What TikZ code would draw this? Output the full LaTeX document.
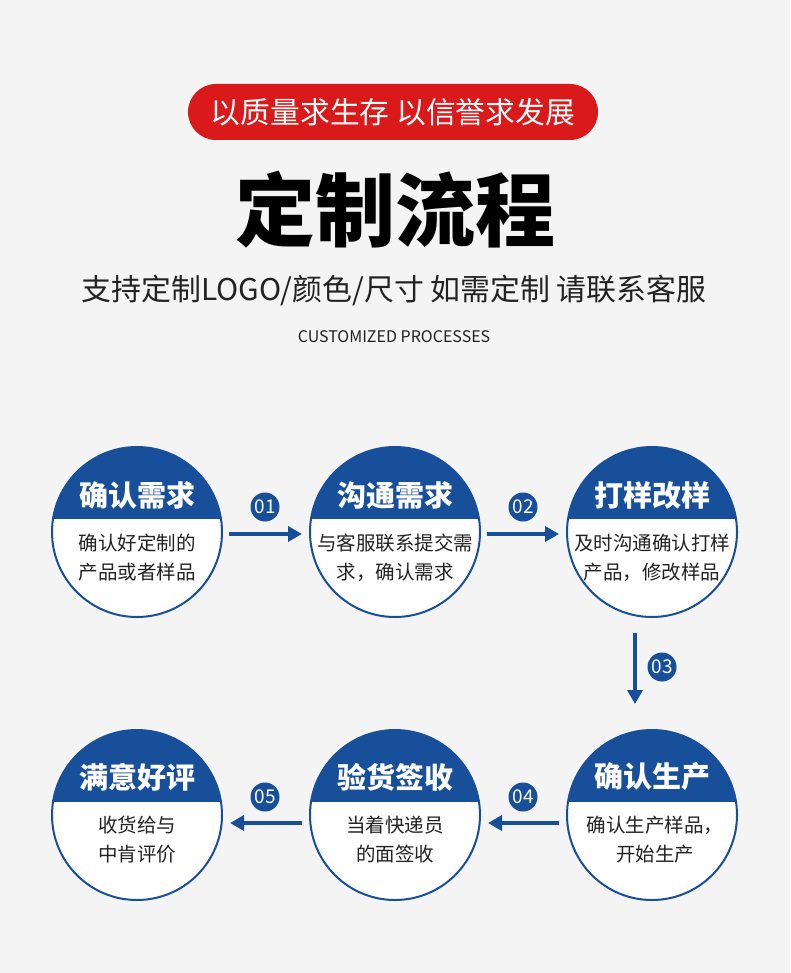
\documentclass[tikz,border=0pt]{standalone}
\usepackage{fontspec}
\setmainfont{Noto Sans CJK SC}
\usetikzlibrary{arrows.meta}
\definecolor{bg}{HTML}{F4F4F4}
\definecolor{pblue}{HTML}{174F9A}
\definecolor{pred}{HTML}{DA1A1A}
\definecolor{ink}{HTML}{222222}
\newcommand{\fs}[1]{\fontsize{#1}{#1}\selectfont}
\tikzset{
  stepcircle/.style={circle, draw=pblue, line width=2pt, fill=white, minimum size=170pt, inner sep=0pt,
    path picture={\fill[pblue] ([xshift=-100pt,yshift=100pt]path picture bounding box.center) rectangle ([xshift=100pt,yshift=13pt]path picture bounding box.center);}},
  steptitle/.style={text=white, font=\fs{29pt}\bfseries, inner sep=0pt},
  stepbody/.style={text=ink, font=\fontsize{19.5pt}{29pt}\selectfont, align=center, inner sep=0pt},
  arr/.style={draw=pblue, line width=4pt, -{Triangle[length=14pt,width=15pt]}},
  badge/.style={circle, fill=pblue, text=white, minimum size=29pt, inner sep=0pt, font=\fs{19pt}},
}
\begin{document}
\begin{tikzpicture}[x=1pt,y=-1pt]
\fill[bg] (0,0) rectangle (790,973);
\useasboundingbox (0,0) rectangle (790,973);
% header
\node[fill=pred, rounded corners=28pt, minimum width=410pt, minimum height=56pt, inner sep=0pt,
      text=white, font=\fs{29.8pt}] (pill) at (393,112) {以质量求生存 以信誉求发展};
\node[font=\fs{80pt}\bfseries, text=black, inner sep=0pt] (title) at (395,210) {定制流程};
\node[font=\fs{29.9pt}, text=ink, inner sep=0pt] (sub) at (394,290) {支持定制LOGO/颜色/尺寸 如需定制 请联系客服};
\node[font=\fs{16pt}, text=ink, inner sep=0pt] (en) at (394,337) {CUSTOMIZED PROCESSES};
% circles
\node[stepcircle] (c1) at (137,532) {};
\node[stepcircle] (c2) at (395,532) {};
\node[stepcircle] (c3) at (652,532) {};
\node[stepcircle] (c6) at (652,815) {};
\node[stepcircle] (c5) at (395,815) {};
\node[stepcircle] (c4) at (137,815) {};
% titles
\node[steptitle] (t1) at (137,495) {确认需求};
\node[steptitle] (t2) at (395,495) {沟通需求};
\node[steptitle] (t3) at (652,495) {打样改样};
\node[steptitle] (t6) at (652,777) {确认生产};
\node[steptitle] (t5) at (395,777) {验货签收};
\node[steptitle] (t4) at (137,777) {满意好评};
% bodies
\node[stepbody] (d1) at (137,558) {确认好定制的\\产品或者样品};
\node[stepbody] (d2) at (395,558) {与客服联系提交需\\求，确认需求};
\node[stepbody] (d3) at (652,558) {及时沟通确认打样\\产品，修改样品};
\node[stepbody] (d6) at (655,840) {确认生产样品，\\开始生产};
\node[stepbody] (d5) at (395,840) {当着快递员\\的面签收};
\node[stepbody] (d4) at (137,840) {收货给与\\中肯评价};
% arrows
\draw[arr] ([xshift=6pt,yshift=-2pt]c1.east) -- ([xshift=-7pt,yshift=-2pt]c2.west);
\draw[arr] ([xshift=6pt,yshift=-2pt]c2.east) -- ([xshift=-7pt,yshift=-2pt]c3.west);
\draw[arr] ([xshift=-17pt,yshift=-15pt]c3.south) -- ([xshift=-17pt,yshift=25pt]c6.north);
\draw[arr] ([xshift=-7pt,yshift=-8pt]c6.west) -- ([xshift=7pt,yshift=-8pt]c5.east);
\draw[arr] ([xshift=-7pt,yshift=-8pt]c5.west) -- ([xshift=7pt,yshift=-8pt]c4.east);
% badges
\node[badge] (b1) at (265,507) {01};
\node[badge] (b2) at (523,507) {02};
\node[badge] (b3) at (662,667) {03};
\node[badge] (b4) at (523,797) {04};
\node[badge] (b5) at (265,797) {05};
\end{tikzpicture}
\end{document}
